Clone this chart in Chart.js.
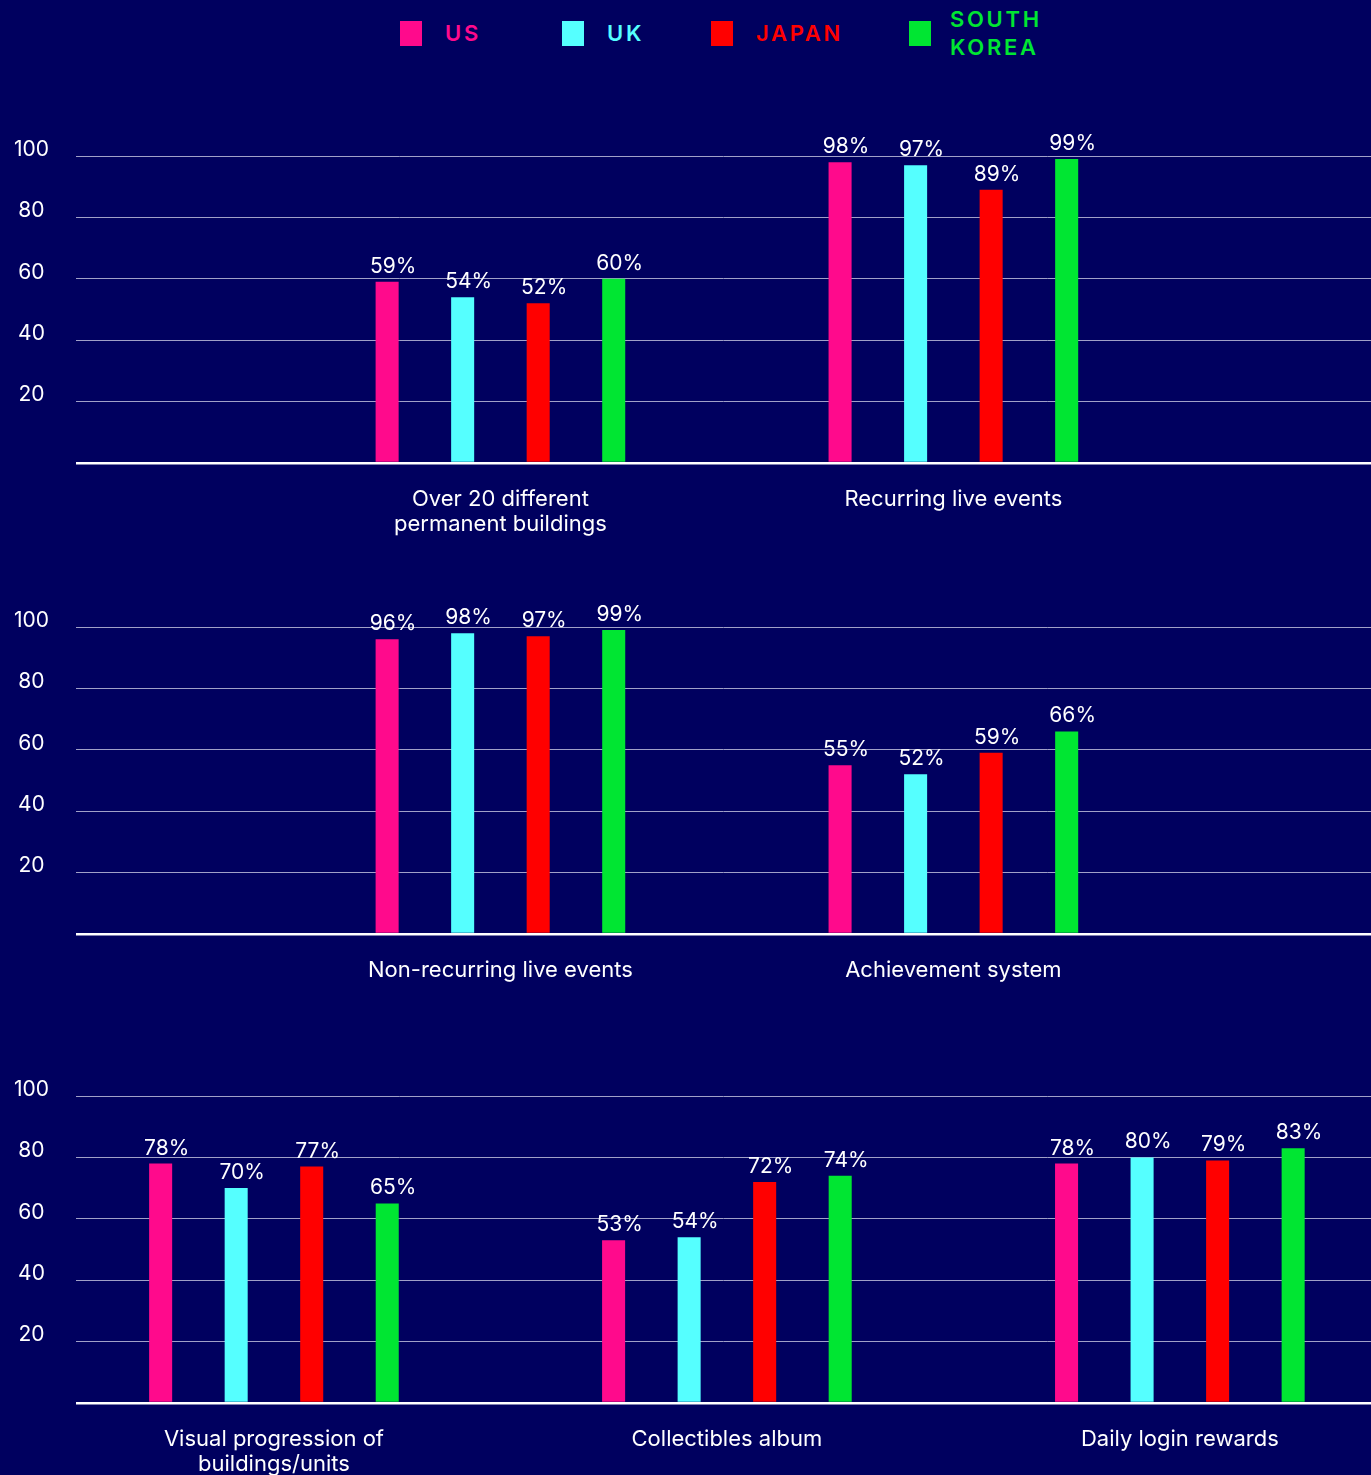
<!DOCTYPE html>
<html>
<head>
<meta charset="utf-8">
<script src="https://cdn.jsdelivr.net/npm/chart.js@4.4.1/dist/chart.umd.min.js"></script>
<style>
  html, body { margin: 0; padding: 0; background: #00005f; overflow: hidden; }
  #page { position: relative; width: 1371px; height: 1475px; background: #00005f; }
  canvas { position: absolute; left: 0; }
  .legend-item { position: absolute; top: 0; height: 66px; display: flex; align-items: center; }
  .legend-box { width: 22px; height: 25px; margin-right: 23px; }
  .legend-text { font-family: Inter, "Noto Sans", sans-serif; font-weight: 600; font-size: 22px; letter-spacing: 2.7px; line-height: 28px; }
</style>
</head>
<body>
<div id="page">
  <div id="legend"></div>
  <canvas id="row1" width="1371" height="440" style="top:96px"></canvas>
  <canvas id="row2" width="1371" height="440" style="top:567px"></canvas>
  <canvas id="row3" width="1371" height="440" style="top:1036px"></canvas>
</div>
<script>
// Chart data
const categories = [
  ["Over 20 different", "permanent buildings"],
  "Recurring live events",
  "Non-recurring live events",
  "Achievement system",
  ["Visual progression of", "buildings/units"],
  "Collectibles album",
  "Daily login rewards",
];
const usValues = [59, 98, 96, 55, 78, 53, 78];
const ukValues = [54, 97, 98, 52, 70, 54, 80];
const japanValues = [52, 89, 97, 59, 77, 72, 79];
const koreaValues = [60, 99, 99, 66, 65, 74, 83];
const seriesNames = ["US", "UK", "JAPAN", "SOUTH KOREA"];
const yTicks = [20, 40, 60, 80, 100];

// Which categories go on each row of charts
const rowCategories = [[0, 1], [2, 3], [4, 5, 6]];

// Styling / layout
const seriesColors = ["#ff0a8c", "#55ffff", "#ff0000", "#00e632"];
const rowSlots = [[0.5, 1.5], [0.5, 1.5], [0, 1, 2]]; // x positions of groups
const legendLeft = [400, 562, 711, 909];
const fontFamily = "Inter, 'Noto Sans', sans-serif";
const allValues = [usValues, ukValues, japanValues, koreaValues];

// Build the legend
const legendEl = document.getElementById("legend");
seriesNames.forEach((name, i) => {
  const item = document.createElement("div");
  item.className = "legend-item";
  item.style.left = legendLeft[i] + "px";
  const box = document.createElement("div");
  box.className = "legend-box";
  box.style.background = seriesColors[i];
  if (i === 3) box.style.marginRight = "19px";
  const text = document.createElement("div");
  text.className = "legend-text";
  text.style.color = seriesColors[i];
  text.innerHTML = name.replace(" ", "<br>");
  item.appendChild(box);
  item.appendChild(text);
  legendEl.appendChild(item);
});

// Plugin that writes the percentage above each bar
const valueLabels = {
  id: "valueLabels",
  afterDatasetsDraw(chart) {
    const ctx = chart.ctx;
    ctx.save();
    ctx.fillStyle = "#ffffff";
    ctx.font = "21px " + fontFamily;
    ctx.textAlign = "center";
    ctx.textBaseline = "alphabetic";
    chart.data.datasets.forEach((ds, di) => {
      const meta = chart.getDatasetMeta(di);
      meta.data.forEach((bar, i) => {
        ctx.fillText(ds.data[i].y + "%", bar.x + 6, bar.y - 9);
      });
    });
    ctx.restore();
  },
};

function makeRow(canvasId, rowIndex) {
  const idx = rowCategories[rowIndex];
  const slots = rowSlots[rowIndex];
  const labelAt = (v) => {
    const k = slots.indexOf(v);
    return k >= 0 ? categories[idx[k]] : "";
  };

  const datasets = seriesNames.map((name, s) => ({
    label: name,
    data: idx.map((c, k) => ({ x: slots[k], y: allValues[s][c] })),
    backgroundColor: seriesColors[s],
    borderWidth: 0,
    categoryPercentage: 0.667,
    barPercentage: 0.305,
  }));

  return new Chart(document.getElementById(canvasId), {
    type: "bar",
    data: { datasets: datasets },
    options: {
      responsive: false,
      animation: false,
      events: [],
      layout: { padding: { top: 60, left: 0, right: 0, bottom: 0 } },
      plugins: { legend: { display: false }, tooltip: { enabled: false } },
      scales: {
        x: {
          type: "linear",
          offset: false,
          bounds: "data",
          min: -0.437,
          max: 2.422,
          afterBuildTicks: (scale) => {
            scale.ticks = slots.map((v) => ({ value: v }));
          },
          afterFit: (scale) => {
            scale.height = 73;
          },
          grid: { display: false, drawTicks: false },
          border: { display: false },
          ticks: {
            autoSkip: false,
            maxRotation: 0,
            padding: 24,
            color: "#ffffff",
            font: { family: fontFamily, size: 22, lineHeight: "25px" },
            callback: (value) => labelAt(value),
          },
        },
        y: {
          min: 0,
          max: 100,
          afterBuildTicks: (scale) => {
            scale.ticks = [0].concat(yTicks).map((v) => ({ value: v }));
          },
          afterFit: (scale) => {
            scale.width = 76;
          },
          border: { display: false },
          grid: {
            drawTicks: false,
            color: (c) => (c.tick && c.tick.value === 0 ? "#ffffff" : "#a0a0c8"),
            lineWidth: (c) => (c.tick && c.tick.value === 0 ? 2.5 : 1),
          },
          ticks: {
            crossAlign: "center",
            padding: 27,
            color: "#ffffff",
            font: { family: fontFamily, size: 21, lineHeight: "13px" },
            callback: (value) => (value === 0 ? "" : [String(value), ""]),
          },
        },
      },
    },
    plugins: [valueLabels],
  });
}

makeRow("row1", 0);
makeRow("row2", 1);
makeRow("row3", 2);
</script>
</body>
</html>
